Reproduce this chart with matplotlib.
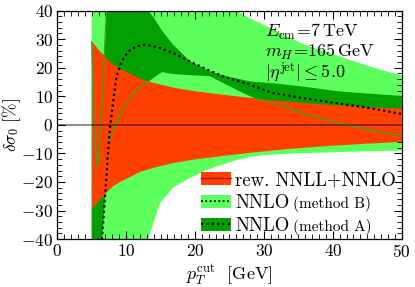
import numpy as np
import matplotlib
matplotlib.use("Agg")
import matplotlib.pyplot as plt
from matplotlib.patches import Patch
from matplotlib.lines import Line2D

plt.rcParams['font.family'] = 'cmr10'
plt.rcParams['mathtext.fontset'] = 'cm'
plt.rcParams['axes.formatter.use_mathtext'] = True

# rew. NNLL+NNLO band: symmetric half width (in %) around 0
pt_nnll = [5, 5.5, 6, 7, 8, 9, 10, 12, 14, 17, 20, 24, 28, 32, 36, 40, 45, 50]
nnll_width = [29.3, 27.8, 26.3, 23.7, 21.4, 19.9, 18.7, 16.3, 14.8, 13.1, 11.9,
              10.7, 9.6, 8.6, 7.8, 7.1, 6.4, 5.8]

# NNLO (method B) band
pt_B = [5, 13.0, 13.2, 14.9, 16.8, 19.3, 21.7, 24.1, 26, 28, 30, 33, 36, 40, 43, 46, 50]
lo_B = [-60, -45, -40, -27.5, -22, -18.5, -15.8, -13.8, -12.4, -11.2, -10.6,
        -10.2, -9.9, -9.6, -9.4, -9.2, -9.0]
hi_B = [60, 60, 60, 58, 55, 50, 46, 42, 40, 37.3, 35, 31.3, 28, 24.8, 22.3, 20, 17.2]

# NNLO (method A) band and central value
pt_A = [5.0, 5.15, 5.3, 5.45, 5.65, 5.86, 6.05, 6.25, 6.45, 6.5, 6.65, 6.82, 6.85,
        7.0, 7.2, 7.25, 7.4, 7.65, 8.0, 8.5, 9.0, 10, 11, 12, 13.2, 14, 15.2,
        16.8, 19.3, 21.7, 22.2, 23.1, 24.6, 26.5, 28, 28.9, 31.6, 35.7, 40.6,
        42, 47.8, 50]
hi_A = [29, 18, 5, -3, -10, -14.7, -10, -3, 3, 5, 13, 24, 25.5,
        33, 42, 60, 60, 60, 60, 60, 60, 60, 60, 60, 40, 37.5, 33,
        28.1, 22.2, 19.3, 18.7, 18, 17, 16, 15.2, 15, 14.5, 13.4, 11.8,
        11.5, 10.5, 10.1]
lo_A = [-60, -60, -60, -60, -60, -60, -60, -60, -60, -42, -36, -30, -29,
        -24, -17, -15, -11, -5.4, -2.5, 0.5, 3, 7.5, 11, 13.3, 15, 16.5, 18.5,
        17.8, 17.4, 17.1, 17, 15.8, 14, 11.7, 10, 9.1, 7.6, 4.1, 0.8,
        0, -2.9, -3.8]
pt_cA = [6.4, 6.7, 7.0, 7.3, 7.65, 8.0, 8.6, 9.3, 10.3, 11.5, 12.5, 13.5, 15,
         17, 19, 21, 24, 28, 31, 35, 40, 45, 50]
cen_A = [-42, -33, -23, -12, -1, 6, 17, 22, 25.7, 27.5, 28, 27.8, 26.8,
         25, 22.5, 20.2, 17, 14.1, 11.3, 9.6, 7.8, 6, 3.8]

red = '#ff4000'
light = '#5cff5c'
dark = '#00a000'
gline = '#44a020'

fig = plt.figure(figsize=(4.15, 2.87), dpi=100)
ax = fig.add_axes([0.138, 0.167, 0.830, 0.796])

pt_nnll = np.array(pt_nnll)
nnll_width = np.array(nnll_width)
pt_A = np.array(pt_A)
lo_A = np.array(lo_A)
hi_A = np.array(hi_A)

ax.fill_between(pt_B, lo_B, hi_B, color=light, lw=0, zorder=1)
ax.fill_between(pt_A, lo_A, hi_A, color=dark, lw=0, zorder=2)
ax.fill_between(pt_nnll, -nnll_width, nnll_width, color=red, lw=0, zorder=3)

# band edge of method A, only where it shows on top of the red band
edge1 = np.where(pt_A <= 7.2, hi_A, np.nan)
edge2 = np.where((pt_A >= 7.65) & ((pt_A <= 13.2) | (pt_A >= 28.9)), lo_A, np.nan)
ax.plot(pt_A, edge1, color=gline, lw=1.0, zorder=4)
ax.plot(pt_A, edge2, color=gline, lw=1.0, zorder=4)

ax.axhline(0, color='black', lw=1.4, alpha=0.45, zorder=5)
ax.plot(pt_cA, cen_A, color='black', lw=1.6, ls=(0, (1, 1.4)), zorder=6)

ax.set_xlim(0, 50)
ax.set_ylim(-40, 40)
ax.set_xticks(np.arange(0, 51, 10))
ax.set_xticks(np.arange(0, 51, 1), minor=True)
ax.set_yticks(np.arange(-40, 41, 10))
ax.set_yticks(np.arange(-40, 41, 2), minor=True)
ax.tick_params(which='both', direction='in', top=True, right=True, labelsize=12.5)
ax.tick_params(which='major', length=6, width=0.8, pad=3)
ax.tick_params(which='minor', length=3.5, width=0.6)
for s in ax.spines.values():
    s.set_linewidth(0.9)

ax.set_xlabel(r'$p_T^{\rm cut}\ $ [GeV]', fontsize=13, labelpad=1)
ax.set_ylabel(r'$\delta\sigma_0\ [\%]$', fontsize=12.5)
ax.yaxis.set_label_coords(-0.1, 0.5)

ax.text(30.2, 32.6, r'$E_{\rm cm}\!=\!7\,{\rm TeV}$', fontsize=13, va='center')
ax.text(30.2, 25.6, r'$m_H\!=\!165\,{\rm GeV}$', fontsize=13, va='center')
ax.text(30.2, 18.5, r'$|\eta^{\rm jet}|\leq 5.0$', fontsize=13, va='center')

handles = [(Patch(facecolor=red, lw=0), Line2D([], [], color='#b01010', lw=1.0)),
           (Patch(facecolor=light, lw=0), Line2D([], [], color='black', lw=1.3, ls=(0, (1, 1.4)))),
           (Patch(facecolor=dark, lw=0), Line2D([], [], color='black', lw=1.6, ls=(0, (1, 1.4))))]
leg = ax.legend(handles, ['rew. NNLL+NNLO', 'NNLO', 'NNLO'], loc='upper left',
                bbox_to_anchor=(0.416, 0.297), frameon=False, fontsize=13.5,
                handlelength=1.6, handleheight=0.75, handletextpad=0.25,
                labelspacing=0.27, borderpad=0, borderaxespad=0)
leg.set_zorder(10)
texts = leg.get_texts()
for t, lab in zip(texts[1:], ['(method B)', '(method A)']):
    ax.annotate(lab, xy=(1, 0), xycoords=t, xytext=(2.5, 0), textcoords='offset points',
                va='bottom', ha='left', fontsize=11, zorder=11)

fig.savefig('out.png', dpi=100)
